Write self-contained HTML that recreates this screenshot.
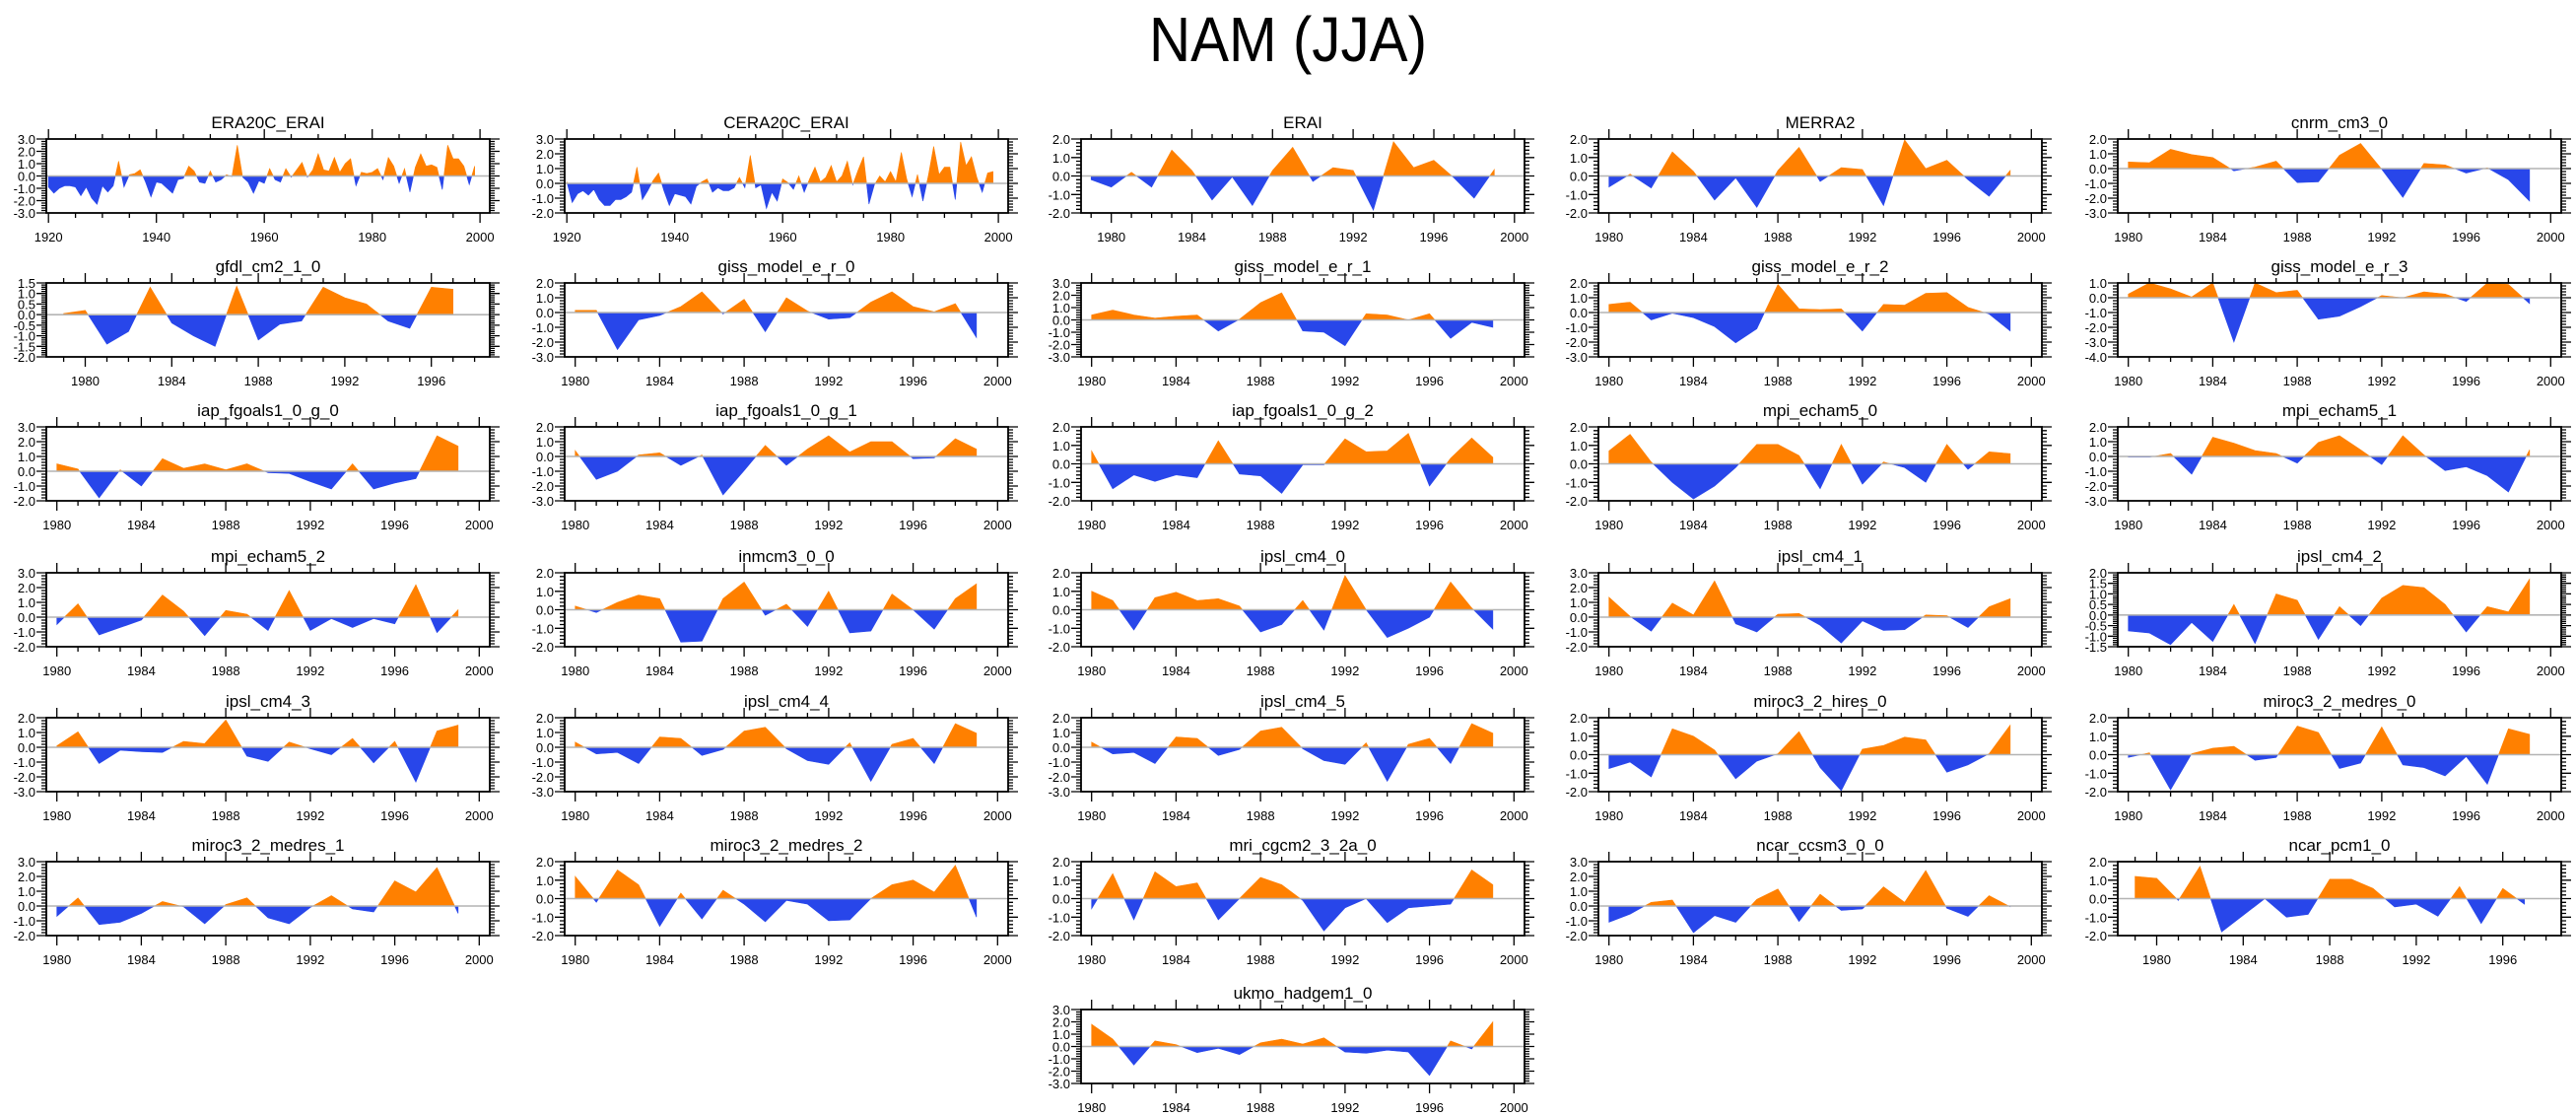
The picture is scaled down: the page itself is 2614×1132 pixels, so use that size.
<!DOCTYPE html>
<html>
<head>
<meta charset="utf-8">
<style>
  html, body { margin:0; padding:0; background:#fff; }
  svg { display:block; }
  text { font-family: "Liberation Sans", "DejaVu Sans", sans-serif; fill:#000; }
</style>
</head>
<body>
<svg id="chart" width="2614" height="1132" viewBox="0 0 2614 1132" xmlns="http://www.w3.org/2000/svg">
  <rect width="2614" height="1132" fill="#fff"/>
  <text x="1307" y="62" font-size="64" text-anchor="middle" textLength="282" lengthAdjust="spacingAndGlyphs">NAM (JJA)</text>
</svg>
<script>
const panelNames = ["ERA20C_ERAI","CERA20C_ERAI","ERAI","MERRA2","cnrm_cm3_0",
 "gfdl_cm2_1_0","giss_model_e_r_0","giss_model_e_r_1","giss_model_e_r_2","giss_model_e_r_3",
 "iap_fgoals1_0_g_0","iap_fgoals1_0_g_1","iap_fgoals1_0_g_2","mpi_echam5_0","mpi_echam5_1",
 "mpi_echam5_2","inmcm3_0_0","ipsl_cm4_0","ipsl_cm4_1","ipsl_cm4_2",
 "ipsl_cm4_3","ipsl_cm4_4","ipsl_cm4_5","miroc3_2_hires_0","miroc3_2_medres_0",
 "miroc3_2_medres_1","miroc3_2_medres_2","mri_cgcm2_3_2a_0","ncar_ccsm3_0_0","ncar_pcm1_0",
 "ukmo_hadgem1_0"];
const startYears = [1920,1920,1979,1980,1980, 1979,1980,1980,1980,1980, 1980,1980,1980,1980,1980,
 1980,1980,1980,1980,1980, 1980,1980,1980,1980,1980, 1980,1980,1980,1980,1979, 1980];
const yMins = [-3,-2,-2,-2,-3, -2,-3,-3,-3,-4, -2,-3,-2,-2,-3, -2,-2,-2,-2,-1.5, -3,-3,-3,-2,-2, -2,-2,-2,-2,-2, -3];
const yMaxs = [3,3,2,2,2, 1.5,2,3,2,1, 3,2,2,2,2, 3,2,2,3,2, 2,2,2,2,2, 3,2,2,3,2, 3];
const ySteps = [1,1,1,1,1, 0.5,1,1,1,1, 1,1,1,1,1, 1,1,1,1,0.5, 1,1,1,1,1, 1,1,1,1,1, 1];

const v_era20c = [-0.9,-1.4,-1.0,-0.8,-0.8,-0.9,-1.6,-0.9,-1.8,-2.3,
 -0.8,-1.3,-0.8,1.2,-0.9,0.1,0.2,0.5,-0.5,-1.7,
 -0.5,-0.6,-1.0,-1.4,-0.3,-0.2,0.8,0.4,-0.5,-0.6,
 0.4,-0.5,-0.3,0.1,-0.05,2.5,-0.1,-0.5,-1.4,-0.4,
 -0.6,0.6,-0.3,-0.5,0.6,-0.1,0.5,1.1,-0.1,0.5,
 1.8,0.5,0.4,1.5,0.3,1.0,1.4,-0.8,0.3,0.2,
 0.3,0.6,-0.3,1.5,0.8,-0.6,0.6,-1.3,0.7,1.8,
 0.8,0.9,0.7,-1.1,2.5,1.4,1.4,0.8,-0.7,0.8];
const v_cera20c = [0.1,-1.3,-0.7,-0.5,-0.8,-0.4,-1.1,-1.5,-1.5,-1.1,
 -1.1,-0.9,-0.6,1.1,-1.1,-0.5,0.2,0.7,-0.5,-1.5,
 -0.7,-0.8,-0.9,-1.4,-0.2,0.1,0.3,-0.6,-0.3,-0.5,
 -0.5,-0.3,0.4,-0.3,1.9,-0.3,-0.1,-1.7,-0.6,-1.2,
 0.3,0.05,-0.4,0.5,-0.6,0.3,1.1,0.1,0.4,1.2,
 0.1,0.5,1.5,-0.1,0.9,1.8,-1.4,-0.1,0.5,0.1,
 0.8,0.1,2.1,0.3,-0.9,0.6,-1.2,0.5,2.5,0.6,
 1.1,1.1,-1.1,2.8,1.2,1.8,0.4,-0.6,0.7,0.8];
const v_erai = [-0.2,-0.6,0.2,-0.6,1.4,0.3,-1.3,-0.05,-1.6,0.3,1.55,-0.3,0.45,0.3,-1.85,1.85,0.45,0.85,-0.1,-1.2,0.35];
const v_merra2 = [-0.6,0.1,-0.65,1.3,0.25,-1.3,-0.1,-1.7,0.3,1.55,-0.3,0.45,0.35,-1.6,1.95,0.4,0.85,-0.2,-1.1,0.3];
const v_cnrm = [0.45,0.4,1.3,0.95,0.75,-0.15,0.1,0.5,-0.95,-0.9,0.9,1.7,-0.05,-1.95,0.35,0.25,-0.3,0.05,-0.75,-2.2];
const v_gfdl = [0.05,0.2,-1.4,-0.8,1.3,-0.4,-1.0,-1.5,1.35,-1.2,-0.45,-0.3,1.3,0.8,0.5,-0.3,-0.65,1.3,1.2];
const v_giss0 = [0.15,0.15,-2.5,-0.5,-0.2,0.4,1.4,-0.1,0.9,-1.3,1.0,0.1,-0.45,-0.35,0.7,1.4,0.4,0.05,0.6,-1.7];
const v_giss1 = [0.4,0.8,0.4,0.15,0.3,0.4,-0.9,0.05,1.4,2.2,-0.9,-1.0,-2.1,0.5,0.4,0.0,0.5,-1.5,-0.2,-0.6];
const v_giss2 = [0.55,0.7,-0.5,-0.05,-0.35,-0.95,-2.05,-1.1,1.9,0.25,0.2,0.25,-1.25,0.55,0.5,1.3,1.35,0.35,-0.1,-1.25];
const v_giss3 = [0.25,1.0,0.6,0.05,1.0,-3.0,1.0,0.35,0.5,-1.45,-1.25,-0.6,0.15,0.0,0.4,0.25,-0.25,1.0,0.9,-0.4];
const v_iap0 = [0.5,0.15,-1.8,0.1,-1.0,0.85,0.2,0.5,0.1,0.5,-0.1,-0.15,-0.7,-1.2,0.5,-1.2,-0.8,-0.5,2.4,1.7];
const v_iap1 = [0.4,-1.55,-1.0,0.1,0.25,-0.6,0.1,-2.6,-0.95,0.75,-0.6,0.5,1.4,0.3,1.0,1.0,-0.15,-0.1,1.2,0.5];
const v_iap2 = [0.7,-1.35,-0.6,-0.95,-0.6,-0.75,1.25,-0.55,-0.65,-1.6,-0.05,-0.05,1.35,0.65,0.7,1.65,-1.2,0.3,1.4,0.35];
const v_mpi0 = [0.7,1.6,0.1,-1.0,-1.9,-1.2,-0.2,1.05,1.05,0.45,-1.35,1.05,-1.1,0.1,-0.2,-1.0,1.05,-0.3,0.65,0.55];
const v_mpi1 = [-0.05,-0.05,0.2,-1.2,1.3,0.9,0.4,0.2,-0.45,0.95,1.4,0.45,-0.55,1.4,0.1,-0.95,-0.7,-1.3,-2.4,0.45];
const v_mpi2 = [-0.5,0.9,-1.2,-0.7,-0.2,1.5,0.4,-1.25,0.45,0.2,-0.9,1.8,-0.9,-0.1,-0.7,-0.1,-0.45,2.2,-1.05,0.5];
const v_inmcm = [0.2,-0.15,0.4,0.8,0.6,-1.75,-1.7,0.6,1.5,-0.3,0.3,-0.9,1.0,-1.25,-1.15,0.85,0.0,-1.05,0.6,1.4];
const v_ipsl0 = [1.0,0.5,-1.1,0.65,0.95,0.5,0.6,0.2,-1.2,-0.8,0.5,-1.1,1.85,0.0,-1.5,-1.0,-0.4,1.5,0.1,-1.05];
const v_ipsl1 = [1.35,0.05,-0.95,0.95,0.15,2.45,-0.45,-1.0,0.2,0.25,-0.55,-1.75,-0.25,-0.9,-0.85,0.15,0.1,-0.7,0.7,1.25];
const v_ipsl2 = [-0.75,-0.85,-1.4,-0.35,-1.25,0.5,-1.35,1.0,0.7,-1.15,0.4,-0.5,0.8,1.4,1.3,0.5,-0.8,0.4,0.15,1.7];
const v_ipsl3 = [0.1,1.05,-1.1,-0.2,-0.3,-0.35,0.4,0.25,1.85,-0.6,-0.95,0.35,-0.1,-0.5,0.6,-1.05,0.4,-2.35,1.1,1.5];
const v_ipsl4 = [0.35,-0.45,-0.35,-1.1,0.7,0.6,-0.55,-0.15,1.1,1.35,-0.1,-0.9,-1.15,0.3,-2.3,0.2,0.6,-1.1,1.6,0.95];
const v_ipsl5 = [0.35,-0.45,-0.35,-1.1,0.7,0.6,-0.55,-0.15,1.1,1.35,-0.1,-0.9,-1.15,0.3,-2.3,0.2,0.6,-1.1,1.6,0.95];
const v_hires = [-0.75,-0.4,-1.2,1.4,1.0,0.25,-1.3,-0.35,0.05,1.25,-0.7,-1.95,0.3,0.5,0.95,0.8,-0.95,-0.55,0.05,1.6];
const v_medres0 = [-0.15,0.1,-1.9,0.05,0.35,0.45,-0.3,-0.15,1.55,1.2,-0.75,-0.45,1.5,-0.55,-0.7,-1.15,-0.1,-1.6,1.4,1.1];
const v_medres1 = [-0.7,0.55,-1.25,-1.1,-0.5,0.3,-0.05,-1.2,0.1,0.55,-0.8,-1.2,-0.1,0.7,-0.2,-0.4,1.7,0.95,2.6,-0.5];
const v_medres2 = [1.2,-0.2,1.55,0.75,-1.5,0.3,-1.1,0.45,-0.3,-1.25,-0.1,-0.3,-1.2,-1.15,0.0,0.75,1.0,0.35,1.8,-1.0];
const v_mri = [-0.55,1.35,-1.15,1.45,0.65,0.85,-1.15,0.0,1.15,0.75,-0.1,-1.75,-0.5,0.0,-1.3,-0.5,-0.4,-0.3,1.55,0.75];
const v_ccsm = [-1.1,-0.55,0.25,0.4,-1.8,-0.65,-1.1,0.45,1.15,-1.05,0.8,-0.3,-0.2,1.3,0.25,2.4,-0.15,-0.7,0.7,-0.05];
const v_pcm = [1.2,1.1,-0.1,1.75,-1.8,-0.9,0.0,-1.0,-0.85,1.05,1.05,0.55,-0.45,-0.3,-0.95,0.65,-1.35,0.55,-0.3];
const v_ukmo = [1.8,0.6,-1.5,0.45,0.15,-0.5,-0.15,-0.65,0.3,0.6,0.2,0.7,-0.45,-0.55,-0.3,-0.45,-2.35,0.45,-0.2,2.0];

const seriesValues = [v_era20c,v_cera20c,v_erai,v_merra2,v_cnrm,
 v_gfdl,v_giss0,v_giss1,v_giss2,v_giss3,
 v_iap0,v_iap1,v_iap2,v_mpi0,v_mpi1,
 v_mpi2,v_inmcm,v_ipsl0,v_ipsl1,v_ipsl2,
 v_ipsl3,v_ipsl4,v_ipsl5,v_hires,v_medres0,
 v_medres1,v_medres2,v_mri,v_ccsm,v_pcm,v_ukmo];

const NS = "http://www.w3.org/2000/svg";
const svg = document.getElementById("chart");
const colLefts = [47, 573, 1097, 1622, 2149];
const rowTops = [141, 287, 433, 581, 728, 874, 1024];
const PW = 450, PH = 75;
const ORANGE = "#ff8000", BLUE = "#2846ea";

function mk(tag, attrs, parent) {
  const e = document.createElementNS(NS, tag);
  for (const k in attrs) e.setAttribute(k, attrs[k]);
  (parent || svg).appendChild(e);
  return e;
}
function slug(s) { return s.toLowerCase().replace(/_/g, "-"); }

function drawPanel(i) {
  const name = panelNames[i];
  const vals = seriesValues[i];
  const y0 = startYears[i];
  const col = i === 30 ? 2 : i % 5;
  const row = i === 30 ? 6 : Math.floor(i / 5);
  const L = colLefts[col], T = rowTops[row];
  let xMin, xMax, xMajor, xMinor, xFirstMajor, xLastMajor;
  if (y0 === 1920) { xMin = 1919.6; xMax = 2001.8; xMajor = 20; xMinor = 5; xFirstMajor = 1920; xLastMajor = 2000; }
  else if (name === "ERAI") { xMin = 1978.5; xMax = 2000.5; xMajor = 4; xMinor = 1; xFirstMajor = 1980; xLastMajor = 2000; }
  else if (y0 === 1979) { xMin = 1978.2; xMax = 1998.7; xMajor = 4; xMinor = 1; xFirstMajor = 1980; xLastMajor = 1996; }
  else { xMin = 1979.5; xMax = 2000.5; xMajor = 4; xMinor = 1; xFirstMajor = 1980; xLastMajor = 2000; }
  const yMin = yMins[i], yMax = yMaxs[i], yStep = ySteps[i];
  const sx = v => L + (v - xMin) / (xMax - xMin) * PW;
  const sy = v => T + (yMax - v) / (yMax - yMin) * PH;

  const g = mk("g", {});
  
  

  const title = mk("text", { x: L + PW / 2, y: T - 11, "font-size": 17, "text-anchor": "middle" }, g);
  
  
  title.textContent = name;

  // fills
  const zy = sy(0);
  const pts = vals.map((v, k) => [sx(y0 + k), v]);
  function fillPath(sign) {
    let d = "M" + pts[0][0].toFixed(2) + "," + zy.toFixed(2);
    for (let k = 0; k < pts.length; k++) {
      if (k > 0) {
        const a = pts[k - 1], b = pts[k];
        if ((a[1] > 0 && b[1] < 0) || (a[1] < 0 && b[1] > 0)) {
          const t = a[1] / (a[1] - b[1]);
          const xc = a[0] + t * (b[0] - a[0]);
          d += " L" + xc.toFixed(2) + "," + zy.toFixed(2);
        }
      }
      const v = sign > 0 ? Math.max(pts[k][1], 0) : Math.min(pts[k][1], 0);
      d += " L" + pts[k][0].toFixed(2) + "," + sy(v).toFixed(2);
    }
    d += " L" + pts[pts.length - 1][0].toFixed(2) + "," + zy.toFixed(2) + " Z";
    return d;
  }
  const pos = mk("path", { d: fillPath(1), fill: ORANGE, stroke: ORANGE, "stroke-width": 0.6 }, g);
  
  
  const neg = mk("path", { d: fillPath(-1), fill: BLUE, stroke: BLUE, "stroke-width": 0.6 }, g);
  
  

  const zl = mk("line", { x1: L, x2: L + PW, y1: zy, y2: zy, stroke: "#b4b4b4", "stroke-width": 1.6 }, g);
  
  

  // frame
  const fr = mk("rect", { x: L, y: T, width: PW, height: PH, fill: "none", stroke: "#000", "stroke-width": 1.8 }, g);
  
  

  // ticks
  let td = "";
  for (let yr = Math.ceil(xMin / xMinor) * xMinor; yr <= xMax; yr += xMinor) {
    const x = sx(yr);
    const major = (yr - xFirstMajor) % xMajor === 0;
    const len = major ? 10 : 5;
    td += "M" + x.toFixed(1) + "," + T + " v" + (-len) + " M" + x.toFixed(1) + "," + (T + PH) + " v" + len + " ";
  }
  const ym = yStep / 5;
  const nMin = Math.round((yMax - yMin) / ym);
  for (let k = 0; k <= nMin; k++) {
    const v = yMin + k * ym;
    const y = sy(v);
    const major = k % 5 === 0;
    const len = major ? 10 : 5;
    td += "M" + L + "," + y.toFixed(1) + " h" + (-len) + " M" + (L + PW) + "," + y.toFixed(1) + " h" + len + " ";
  }
  const ticks = mk("path", { d: td, stroke: "#000", "stroke-width": 1.3, fill: "none" }, g);
  
  

  for (let yr = xFirstMajor; yr <= xLastMajor; yr += xMajor) {
    const t = mk("text", { x: sx(yr), y: T + PH + 29, "font-size": 13, "text-anchor": "middle" }, g);
    
    
    t.textContent = String(yr);
  }
  const nMaj = Math.round((yMax - yMin) / yStep);
  for (let k = 0; k <= nMaj; k++) {
    const v = yMin + k * yStep;
    const t = mk("text", { x: L - 11, y: sy(v) + 5, "font-size": 13, "text-anchor": "end" }, g);
    
    
    t.textContent = v.toFixed(1);
  }
}
for (let i = 0; i < panelNames.length; i++) drawPanel(i);
</script>
</body>
</html>
